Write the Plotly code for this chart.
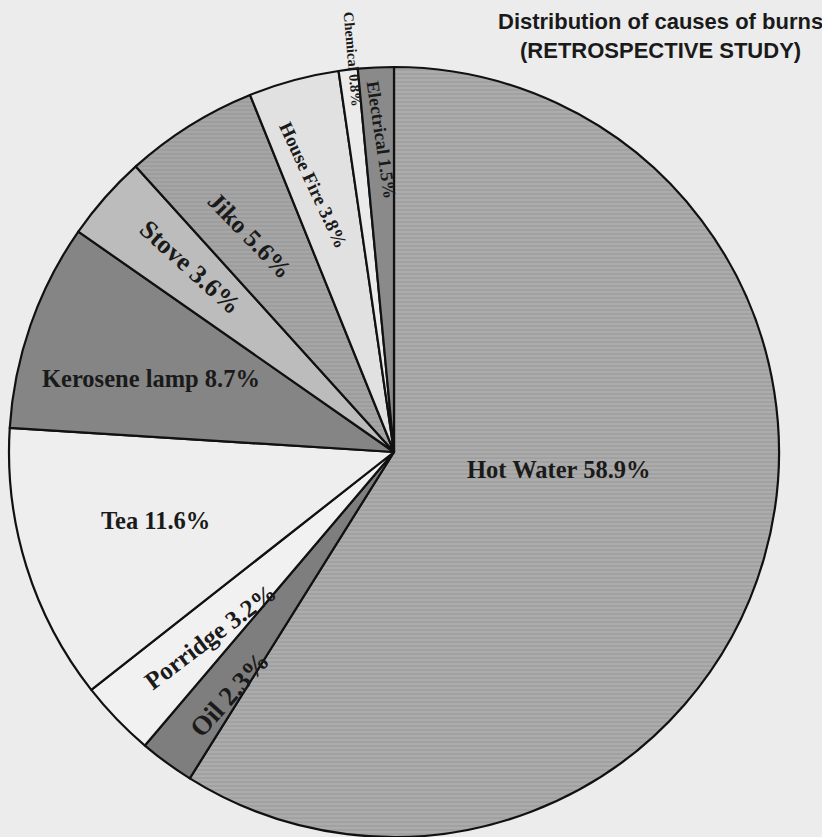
import math
import plotly.graph_objects as go

# ---- data ----
causes = ["Hot Water", "Oil", "Porridge", "Tea", "Kerosene lamp", "Stove",
          "Jiko", "House Fire", "Chemical", "Electrical"]
percent = [58.9, 2.3, 3.2, 11.6, 8.7, 3.6, 5.6, 3.8, 0.8, 1.5]

# ---- style ----
fills = ["#acacac", "#7e7e7e", "#f1f1f1", "#eeeeee", "#858585", "#bcbcbc",
         "#a6a6a6", "#e1e1e1", "#ebebeb", "#8a8a8a"]
stripe = ["-", "", "", "", "", "", "-", "", "", ""]
stripe_fg = ["#9d9d9d", "#7e7e7e", "#f1f1f1", "#eeeeee", "#858585", "#bcbcbc",
             "#999999", "#e1e1e1", "#ebebeb", "#8a8a8a"]
# label placement: radial fraction, angular offset from slice middle, text rotation, font size
lab_r = [0.43, 0.76, 0.676, 0.645, 0.66, 0.713, 0.676, 0.725, 1.026, 0.81]
lab_dt = [-9.8, -2.1, -1.3, 1.2, -2.4, 0.7, -1.5, -1.8, 0.8, 0.3]
lab_rot = [None, -48, -37, None, None, 42, 46, 65, 85, 81.5]
lab_size = [24.5, 27, 25, 24.5, 24.5, 26, 25, 19, 14.5, 18]

W, H = 822, 837
CX, CY, R = 394, 452, 385  # pixels from top-left

fig = go.Figure(go.Pie(
    labels=causes,
    values=percent,
    sort=False,
    direction="clockwise",
    rotation=0,
    textinfo="none",
    hoverinfo="label+percent",
    marker=dict(colors=fills, line=dict(color="#111111", width=2.2),
                pattern=dict(shape=stripe, fgcolor=stripe_fg, bgcolor=fills,
                             size=4, solidity=0.35)),
    domain=dict(x=[(CX - R) / W, (CX + R) / W], y=[(H - CY - R) / H, (H - CY + R) / H]),
    showlegend=False,
))

annotations = []
total = sum(percent)
cum = 0.0
for i, (name, v) in enumerate(zip(causes, percent)):
    mid = (cum + v / 2) / total * 360.0
    cum += v
    th = math.radians(mid + lab_dt[i])
    px = CX + lab_r[i] * R * math.sin(th)
    py = CY - lab_r[i] * R * math.cos(th)
    annotations.append(dict(
        x=px / W, y=1 - py / H, xref="paper", yref="paper",
        text=f"<b>{name} {v:.1f}%</b>", showarrow=False,
        xanchor="center", yanchor="middle",
        textangle=lab_rot[i] if lab_rot[i] is not None else 0,
        font=dict(family="Liberation Serif, Times New Roman, serif",
                  size=lab_size[i], color="#1a1a1a"),
    ))

annotations.append(dict(
    x=660 / W, y=1 - 36 / H, xref="paper", yref="paper", showarrow=False,
    xanchor="center", yanchor="middle",
    text="<b>Distribution of causes of burns</b><br><b>(RETROSPECTIVE STUDY)</b>",
    font=dict(family="Liberation Sans Narrow, Liberation Sans, Arial, sans-serif",
              size=22, color="#1a1a1a"),
))

fig.update_layout(
    width=W, height=H,
    margin=dict(l=0, r=0, t=0, b=0),
    paper_bgcolor="#ececec",
    plot_bgcolor="#ececec",
    annotations=annotations,
)

fig.write_html("out.html")
